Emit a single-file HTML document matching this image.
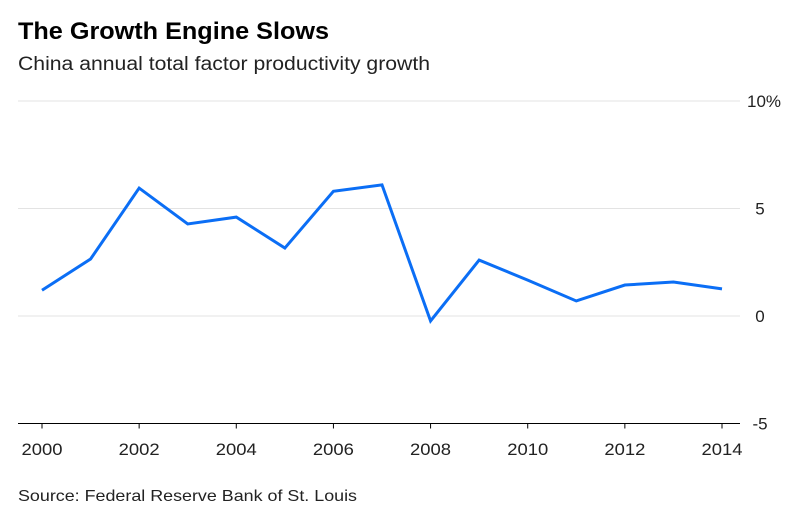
<!DOCTYPE html>
<html><head><meta charset="utf-8"><style>
body{margin:0;background:#fff;width:800px;height:520px;overflow:hidden;font-family:"Liberation Sans",Arial,sans-serif;}
</style></head><body>
<svg width="800" height="520" xmlns="http://www.w3.org/2000/svg">
<text x="18" y="39" font-size="24" font-weight="bold" fill="#000" textLength="311" lengthAdjust="spacingAndGlyphs">The Growth Engine Slows</text>
<text x="18" y="70" font-size="19" fill="#222" textLength="412" lengthAdjust="spacingAndGlyphs">China annual total factor productivity growth</text>
<g id="grid"></g>
<g id="xaxis"></g>
<g id="yaxis"></g>
<g id="series"></g>
<text x="18" y="501" font-size="16" fill="#222" textLength="339" lengthAdjust="spacingAndGlyphs">Source: Federal Reserve Bank of St. Louis</text>
</svg>
<script>
const years=[2000,2001,2002,2003,2004,2005,2006,2007,2008,2009,2010,2011,2012,2013,2014];
const tfp=[1.2,2.65,5.95,4.28,4.6,3.16,5.8,6.1,-0.23,2.6,1.67,0.7,1.44,1.58,1.26];
const yTicks=[10,5,0,-5];
const yTickLabels=["10%","5","0","-5"];
const xTicks=[2000,2002,2004,2006,2008,2010,2012,2014];
const NS="http://www.w3.org/2000/svg";
function xs(v){return 42+(v-2000)*(722-42)/14;}
function ys(v){return 316-v*(316-101)/10;}
function mk(t,a,p){const e=document.createElementNS(NS,t);for(const k in a)e.setAttribute(k,a[k]);p.appendChild(e);return e;}
const grid=document.getElementById('grid'),ya=document.getElementById('yaxis'),xa=document.getElementById('xaxis'),se=document.getElementById('series');
yTicks.forEach((v,i)=>{
 const l=mk('line',{x1:18,x2:740,y1:ys(v),y2:ys(v),stroke:v===-5?'#000':'#e3e3e3','stroke-width':1},v===-5?xa:grid);
 
 
 const t=mk('text',{x:v===10?764:760,y:ys(v)+6,'font-size':17,fill:'#222','text-anchor':'middle'},ya);
 t.textContent=yTickLabels[i];
 
 
});
xTicks.forEach(v=>{
 const tk=mk('line',{x1:xs(v),x2:xs(v),y1:ys(-5),y2:ys(-5)+5,stroke:'#000'},xa);
 
 
 const t=mk('text',{x:xs(v),y:455,'font-size':17,fill:'#222','text-anchor':'middle',textLength:41,lengthAdjust:'spacingAndGlyphs'},xa);
 t.textContent=v;
 
 
});
const p=mk('polyline',{points:years.map((y,i)=>xs(y)+','+ys(tfp[i])).join(' '),fill:'none',stroke:'#0b6ef5','stroke-width':3,'stroke-linejoin':'miter'},se);


</script>
</body></html>
